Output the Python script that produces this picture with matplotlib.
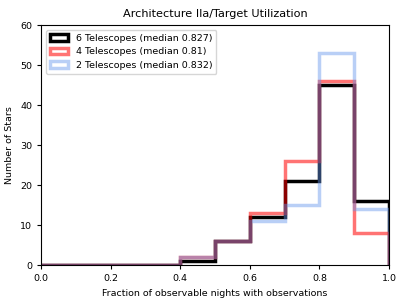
import numpy as np
import matplotlib
matplotlib.use("Agg")
import matplotlib.pyplot as plt

bin_edges = [0.0, 0.1, 0.2, 0.3, 0.4, 0.5, 0.6, 0.7, 0.8, 0.9, 1.0]
counts_6 = [0, 0, 0, 0, 1, 6, 12, 21, 45, 16]
counts_4 = [0, 0, 0, 0, 2, 6, 13, 26, 46, 8]
counts_2 = [0, 0, 0, 0, 2, 6, 11, 15, 53, 14]
labels = ["6 Telescopes (median 0.827)",
          "4 Telescopes (median 0.81)",
          "2 Telescopes (median 0.832)"]

plt.rcParams['font.size'] = 6.8
plt.rcParams['xtick.major.size'] = 3
plt.rcParams['ytick.major.size'] = 3
fig = plt.figure(figsize=(4.07, 3.05), dpi=100)
ax = fig.add_axes([0.101, 0.131, 0.855, 0.787])

centers = [(a + b) / 2 for a, b in zip(bin_edges[:-1], bin_edges[1:])]
ax.hist(centers, bins=bin_edges, weights=counts_6, histtype='step',
        color='black', lw=2.5, label=labels[0])
ax.hist(centers, bins=bin_edges, weights=counts_4, histtype='step',
        color='red', alpha=0.55, lw=2.5, label=labels[1])
ax.hist(centers, bins=bin_edges, weights=counts_2, histtype='step',
        color='cornflowerblue', alpha=0.45, lw=2.5, label=labels[2])

ax.set_xlim(0, 1)
ax.set_ylim(0, 60)
ax.set_title("Architecture IIa/Target Utilization", fontsize=8.1)
ax.set_xlabel("Fraction of observable nights with observations")
ax.set_ylabel("Number of Stars")
ax.legend(loc='upper left')
fig.savefig("out.png", dpi=100)
